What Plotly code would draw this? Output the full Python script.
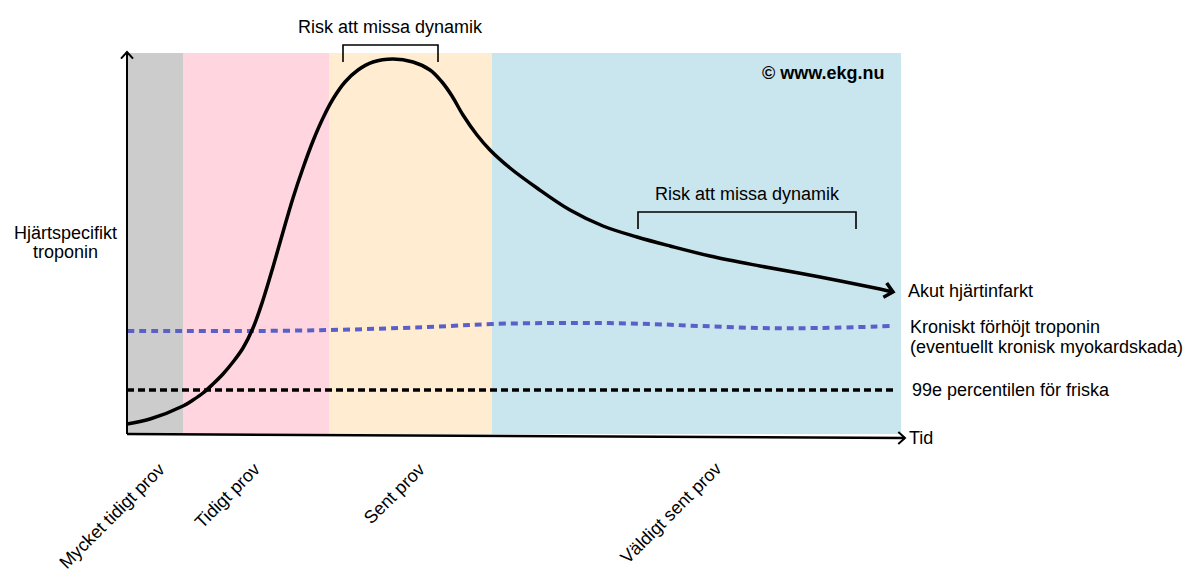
import math

import plotly.graph_objects as go

# Schematic troponin kinetics, arbitrary units (time -> right, level -> up)
TIME = [0, 23, 56, 66, 76, 86, 96, 106, 116, 126, 136, 146, 156, 166, 176, 186, 196,
        206, 218, 231, 246, 266, 286, 303, 315, 325, 336, 350, 363, 383, 410, 443,
        476, 510, 543, 583, 633, 693, 753, 766]
TROPONIN = [10, 15, 28, 34, 41, 50, 60, 72, 86, 106, 134, 167, 202, 236, 266, 293, 316,
            335, 352, 364, 372, 375, 372, 364, 352, 338, 319, 299, 284, 266, 246, 224,
            208, 197, 188, 178, 168, 157, 145, 142]

CHRONIC_TIME = [0, 56, 123, 202, 273, 323, 365, 423, 473, 523, 573, 633, 693, 766]
CHRONIC_LEVEL = [103, 103, 103, 104, 106, 108, 110, 111, 111, 110, 108, 106, 106, 108]

PERCENTILE_99 = 44
REF_LINE_END = 766

BAND_EDGES = [0, 56, 202, 365, 774]
BAND_TOP = 381
SAMPLE_LABELS = ["Mycket tidigt prov", "Tidigt prov", "Sent prov", "Väldigt sent prov"]

RISK_WINDOWS = [(216, 311, 389), (511, 729, 222)]
RISK_TEXT = "Risk att missa dynamik"

Y_AXIS_TOP = 382
X_AXIS_END = (778, -4)

# styling
BAND_COLORS = ["#cccccc", "#ffd6df", "#ffecd1", "#c9e6ef"]
PURPLE = "#5b60c8"
FONT = "Liberation Sans, Arial, sans-serif"
FS = 18
LABEL_POS = [(-15, -82), (100, -62), (267, -60), (544, -79)]


def chevron(x0, y0, x1, y1, size=10, spread=42):
    """Open arrow head at (x1, y1), pointing away from (x0, y0)."""
    ang = math.atan2(y1 - y0, x1 - x0)
    xs, ys = [], []
    for s in (spread, None, -spread):
        if s is None:
            xs.append(x1)
            ys.append(y1)
            continue
        a = ang + math.pi - math.radians(s)
        xs.append(x1 + size * math.cos(a))
        ys.append(y1 + size * math.sin(a))
    return xs, ys


def line(fig, x, y, color="black", width=2, dash=None, shape="linear"):
    fig.add_trace(go.Scatter(x=x, y=y, mode="lines", hoverinfo="skip",
                             line=dict(color=color, width=width, dash=dash, shape=shape)))


def text(fig, x, y, s, xanchor="left", angle=0, bold=False):
    fig.add_annotation(x=x, y=y, text=f"<b>{s}</b>" if bold else s, showarrow=False,
                       xanchor=xanchor, yanchor="middle", textangle=angle,
                       font=dict(family=FONT, size=FS, color="black"))


fig = go.Figure()

for i, col in enumerate(BAND_COLORS):
    fig.add_shape(type="rect", x0=BAND_EDGES[i], x1=BAND_EDGES[i + 1], y0=0, y1=BAND_TOP,
                  fillcolor=col, line_width=0, layer="below")

# reference lines
line(fig, [0, REF_LINE_END], [PERCENTILE_99, PERCENTILE_99], width=3.5, dash="7px,4px")
line(fig, CHRONIC_TIME, CHRONIC_LEVEL, color=PURPLE, width=4, dash="7px,5px", shape="spline")

# acute MI curve
line(fig, TIME, TROPONIN, width=3.5, shape="spline")
cx, cy = chevron(TIME[-2], TROPONIN[-2], TIME[-1], TROPONIN[-1], size=11)
line(fig, cx, cy, width=3.5)

# axes
line(fig, [0, 0], [0, Y_AXIS_TOP], width=2)
cx, cy = chevron(0, 0, 0, Y_AXIS_TOP, size=9)
line(fig, cx, cy, width=2)
line(fig, [0, X_AXIS_END[0]], [0, X_AXIS_END[1]], width=2.5)
cx, cy = chevron(0, 0, X_AXIS_END[0], X_AXIS_END[1], size=9)
line(fig, cx, cy, width=2)

# brackets
for x0, x1, top in RISK_WINDOWS:
    line(fig, [x0, x0, x1, x1], [top - 17, top, top, top - 17], width=1.6)
    text(fig, (x0 + x1) / 2, top + 18, RISK_TEXT, xanchor="center")

# labels
text(fig, 779, 143, "Akut hjärtinfarkt")
text(fig, 781, 107, "Kroniskt förhöjt troponin")
text(fig, 781, 87, "(eventuellt kronisk myokardskada)")
text(fig, 783, 44, "99e percentilen för friska")
text(fig, 780, -4, "Tid")
text(fig, -62, 201, "Hjärtspecifikt", xanchor="center")
text(fig, -62, 182, "troponin", xanchor="center")
text(fig, 696, 361, "© www.ekg.nu", xanchor="center", bold=True)

for lab, (px, py) in zip(SAMPLE_LABELS, LABEL_POS):
    text(fig, px, py, lab, xanchor="center", angle=-45)

# the page body adds an 8px margin, so the ranges are shifted to compensate
fig.update_layout(
    width=1200, height=585, margin=dict(l=0, r=0, t=0, b=0),
    paper_bgcolor="white", plot_bgcolor="white", showlegend=False,
    xaxis=dict(range=[-119, 1081], visible=False, fixedrange=True),
    yaxis=dict(range=[-159, 426], visible=False, fixedrange=True),
)

fig.write_html("out.html")
